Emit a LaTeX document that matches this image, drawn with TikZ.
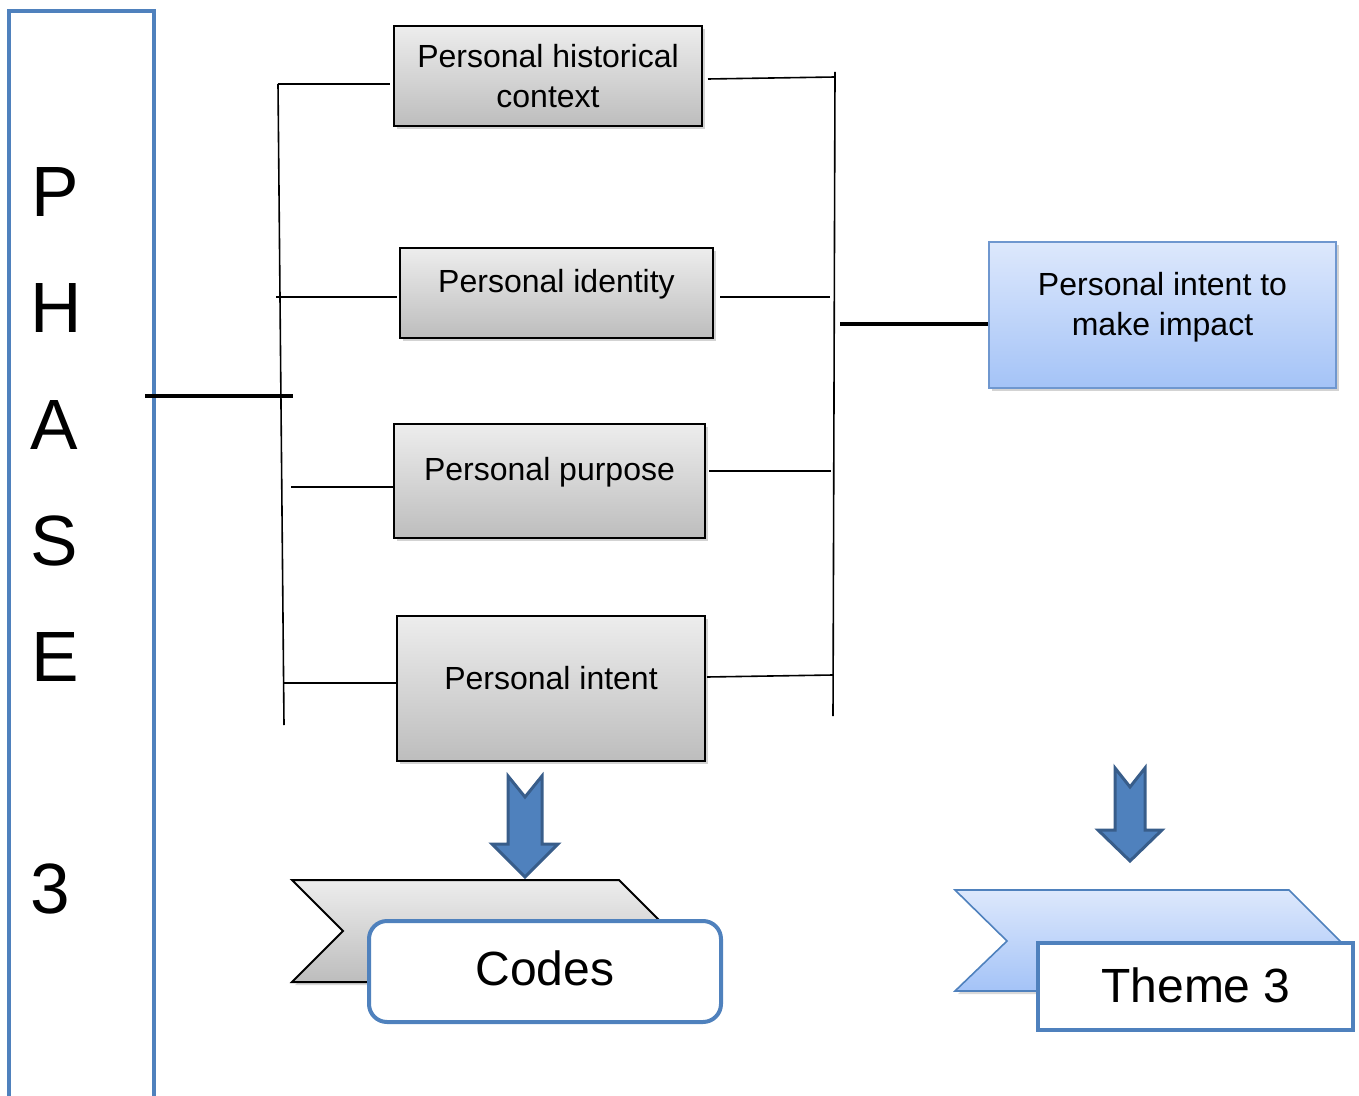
\documentclass[tikz,border=0pt]{standalone}
\usepackage{fontspec}
\setmainfont{Liberation Sans}
\usetikzlibrary{shadows}
\definecolor{pblue}{HTML}{4F81BD}
\definecolor{pdark}{HTML}{385D8A}
\definecolor{lbtop}{HTML}{DDE8FC}
\definecolor{lbbot}{HTML}{A4C3F7}
\definecolor{lbedge}{HTML}{6F97CF}
\definecolor{gtop}{HTML}{EDEDED}
\definecolor{gbot}{HTML}{BDBDBD}
\tikzset{
  graybox/.style={draw=black, line width=1pt, top color=gtop, bottom color=gbot, inner sep=0pt,
    drop shadow={opacity=0.35, shadow xshift=1.5pt, shadow yshift=-1.5pt}},
  bluebox/.style={draw=lbedge, line width=1pt, top color=lbtop, bottom color=lbbot, inner sep=0pt,
    drop shadow={opacity=0.35, shadow xshift=1.5pt, shadow yshift=-1.5pt}},
  boxtext/.style={font=\fontsize{16pt}{20pt}\selectfont, align=center, inner sep=0pt},
  phaseletter/.style={font=\fontsize{35.6pt}{40pt}\selectfont, anchor=base, inner sep=0pt},
  thin/.style={line width=0.8pt, draw=black},
  thick bar/.style={line width=2.3pt, draw=black},
  blockarrow/.style={fill=pblue, draw=pdark, line width=1.5pt, line join=miter},
  bigtext/.style={font=\fontsize{24pt}{28pt}\selectfont, inner sep=0pt}
}
\begin{document}
\begin{tikzpicture}[x=0.5pt,y=-0.5pt]
\useasboundingbox (0,0) rectangle (1359,1096);
% PHASE column
\draw[pblue, line width=1.6pt] (9,1096) -- (9,11) -- (154,11) -- (154,1096);
\node[phaseletter] (lp) at (55,217) {P};
\node[phaseletter] (lh) at (56,333) {H};
\node[phaseletter] (la) at (54,449) {A};
\node[phaseletter] (ls) at (54,565) {S};
\node[phaseletter] (le) at (55,681) {E};
\node[phaseletter] (l3) at (50,913) {3};

% gray boxes
\node[graybox, minimum width=154pt, minimum height=50pt] (b1) at (548,76) {};
\node[boxtext] (t1) at (548,76) {Personal historical\\context};
\node[graybox, minimum width=156.5pt, minimum height=45pt] (b2) at (556.5,293) {};
\node[boxtext] (t2) at (556.5,284) {Personal identity};
\node[graybox, minimum width=155.5pt, minimum height=57pt] (b3) at (549.5,481) {};
\node[boxtext] (t3) at (549.5,472) {Personal purpose};
\node[graybox, minimum width=154pt, minimum height=72.5pt] (b4) at (551,688.5) {};
\node[boxtext] (t4) at (551,678) {Personal intent};

% right blue box
\node[bluebox, minimum width=173.5pt, minimum height=73pt] (rb) at (1162.5,315) {};
\node[boxtext] (trb) at (1162.5,307) {Personal intent to\\make impact};

% left bracket
\coordinate (lt) at (278,84);
\coordinate (lb) at (284,725);
\coordinate (l1) at (390,84);
\coordinate (l2a) at (276,297);
\coordinate (l2b) at (397,297);
\coordinate (l3a) at (291,487);
\coordinate (l3b) at (393,487);
\coordinate (l4a) at (284,683);
\coordinate (l4b) at (396,683);
\draw[thin] (lt) -- (lb);
\draw[thin] (lt) -- (l1);
\draw[thin] (l2a) -- (l2b);
\draw[thin] (l3a) -- (l3b);
\draw[thin] (l4a) -- (l4b);
\coordinate (pa) at (145,396);
\coordinate (pb) at (293,396);
\draw[thick bar] (pa) -- (pb);

% right bracket
\coordinate (rt) at (835,72);
\coordinate (rbm) at (833,716);
\draw[thin] (rt) -- (rbm);
\coordinate (r1a) at (708,79);
\coordinate (r1b) at (835,77);
\coordinate (r2a) at (720,297);
\coordinate (r2b) at (830,297);
\coordinate (r3a) at (709,471);
\coordinate (r3b) at (831,471);
\coordinate (r4a) at (707,677);
\coordinate (r4b) at (833,675);
\draw[thin] (r1a) -- (r1b);
\draw[thin] (r2a) -- (r2b);
\draw[thin] (r3a) -- (r3b);
\draw[thin] (r4a) -- (r4b);
\coordinate (qa) at (840,324);
\draw[thick bar] (qa) -- (rb.west |- qa);

% block arrows
\draw[blockarrow] (508,776) -- (525,797) -- (542,776) -- (542,844) -- (558,844) -- (525,877) -- (492,844) -- (508,844) -- cycle;
\draw[blockarrow] (1115,768) -- (1130,787) -- (1145,768) -- (1145,830) -- (1162,830) -- (1130,861) -- (1098,830) -- (1115,830) -- cycle;

% gray chevron + Codes
\path[draw=black, line width=1pt, top color=gtop, bottom color=gbot,
  drop shadow={opacity=0.3, shadow xshift=1.5pt, shadow yshift=-1.5pt}]
  (292,880) -- (619,880) -- (670,931) -- (619,982) -- (292,982) -- (343,931) -- cycle;
\node[draw=pblue, line width=2pt, fill=white, rounded corners=9pt, minimum width=176pt, minimum height=50.5pt] (codes) at (545,971.5) {};
\node[bigtext] (tcodes) at (545,968) {Codes};

% blue chevron + Theme 3
\path[draw=pblue, line width=0.8pt, top color=lbtop, bottom color=lbbot,
  drop shadow={opacity=0.3, shadow xshift=1.5pt, shadow yshift=-1.5pt}]
  (955,890) -- (1289,890) -- (1340,941) -- (1289,991) -- (955,991) -- (1007,941) -- cycle;
\node[draw=pblue, line width=2pt, fill=white, minimum width=157.5pt, minimum height=43.5pt] (theme) at (1195.5,986.5) {};
\node[bigtext] (ttheme) at (1196,985) {Theme 3};
\end{tikzpicture}
\end{document}
